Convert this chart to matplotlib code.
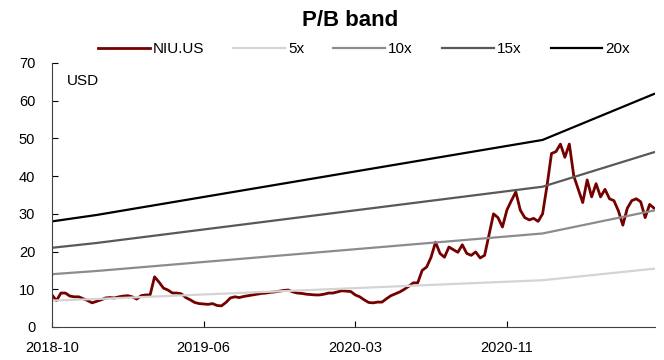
import numpy as np
import matplotlib
matplotlib.use('Agg')
from matplotlib import pyplot as plt

# weekly closes (every 5 trading days)
price = [8.5, 7.0, 9.0, 9.0, 8.2, 8.0, 8.0, 7.5, 7.0, 6.4,
         6.8, 7.2, 7.7, 7.8, 7.7, 8.0, 8.2, 8.3, 8.0, 7.4,
         8.3, 8.5, 8.5, 13.3, 11.9, 10.3, 9.8, 9.0, 9.0, 8.8,
         7.8, 7.2, 6.5, 6.2, 6.1, 6.0, 6.2, 5.7, 5.6, 6.5,
         7.7, 8.0, 7.8, 8.1, 8.3, 8.5, 8.7, 8.9, 9.0, 9.2,
         9.3, 9.5, 9.7, 9.8, 9.3, 9.0, 8.9, 8.7, 8.6, 8.5,
         8.5, 8.7, 9.0, 9.0, 9.3, 9.6, 9.5, 9.4, 8.5, 8.0,
         7.2, 6.5, 6.4, 6.6, 6.6, 7.5, 8.3, 8.8, 9.3, 10.0,
         10.8, 11.7, 11.7, 15.0, 15.9, 18.5, 22.5, 19.5, 18.5, 21.2,
         20.5, 19.8, 21.8, 19.5, 19.0, 19.9, 18.3, 19.0, 24.5, 30.0,
         29.0, 26.5, 31.0, 33.5, 35.8, 31.0, 29.0, 28.4, 28.8, 28.0,
         30.0, 37.5, 46.0, 46.5, 48.5, 45.0, 48.5, 40.0, 36.5, 33.0,
         39.0, 34.5, 38.0, 34.5, 36.5, 34.0, 33.5, 30.8, 27.0, 31.5,
         33.5, 34.0, 33.2, 29.0, 32.5, 31.5]

# book value per share at the reporting points (week index)
bvps_week = [0, 10, 110, 135]
bvps = [1.40, 1.485, 2.48, 3.09]

multiples = [5, 10, 15, 20]
band_colors = ['#d4d4d4', '#8c8c8c', '#595959', '#000000']

tick_pos = [0, 34, 68, 102]
tick_labels = ['2018-10', '2019-06', '2020-03', '2020-11']


def draw():
    plt.rcParams['font.family'] = ['Liberation Sans', 'DejaVu Sans']
    fig = plt.figure(figsize=(6.64, 3.6), dpi=100)
    ax = fig.add_axes([0.0783, 0.0917, 0.9081, 0.7333])

    ax.plot(np.arange(len(price)), price, color='#740000', lw=2.0, label='NIU.US')
    for m, c in zip(multiples, band_colors):
        ax.plot(bvps_week, np.array(bvps) * m, color=c, lw=1.6, label='%dx' % m)

    ax.set_xlim(0, 135.2)
    ax.set_ylim(0, 70)
    ax.set_yticks(range(0, 71, 10))
    ax.set_xticks(tick_pos)
    ax.set_xticklabels(tick_labels)
    ax.tick_params(direction='in', length=4, labelsize=10.5, width=0.8)
    ax.tick_params(axis='x', pad=10)
    ax.tick_params(axis='y', pad=12)
    for s in ['top', 'right']:
        ax.spines[s].set_visible(False)
    for s in ['left', 'bottom']:
        ax.spines[s].set_color('#404040')

    ax.text(0.025, 0.932, 'USD', transform=ax.transAxes, fontsize=11, va='center')

    fig.text(0.527, 0.944, 'P/B band', fontsize=16, fontweight='bold', ha='center', va='center')
    fig.legend(loc='center', bbox_to_anchor=(0.548, 0.864), ncol=5, frameon=False,
               fontsize=11, handlelength=3.4, handletextpad=0.2, columnspacing=1.9)

    fig.savefig('out.png', dpi=100)


draw()
